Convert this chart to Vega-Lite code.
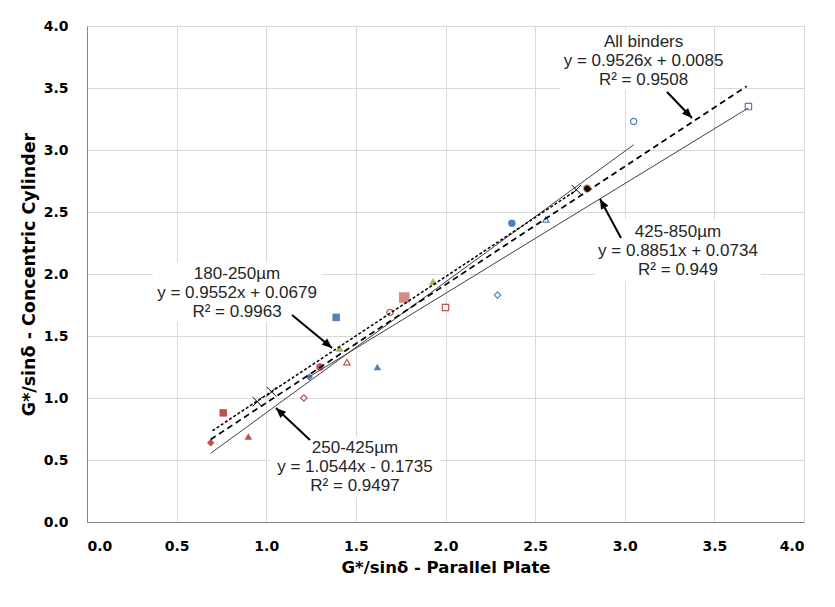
{
  "$schema": "https://vega.github.io/schema/vega-lite/v6.json",
  "width": 717,
  "height": 496,
  "autosize": {"type": "none"},
  "padding": {"left": 87, "top": 26, "right": 31, "bottom": 85},
  "background": "white",
  "config": {
    "view": {"stroke": "#bfbfbf", "strokeWidth": 1},
    "axis": {
      "labelFont": "DejaVu Sans",
      "labelFontWeight": "bold",
      "labelFontSize": 14,
      "labelColor": "#000000",
      "titleFont": "DejaVu Sans",
      "titleFontWeight": "bold",
      "titleFontSize": 16.5,
      "titleColor": "#000000",
      "gridColor": "#d9d9d9",
      "gridWidth": 1,
      "domainColor": "#868686",
      "domainWidth": 1,
      "ticks": false,
      "tickSize": 0
    },
    "axisX": {"labelPadding": 17, "titlePadding": 6},
    "axisY": {"labelPadding": 19, "titlePadding": 5, "titleFontSize": 17.5}
  },
  "datasets": {
    "points": [
      {"grade": "250-425µm", "binder": "B1", "pp": 0.69, "cc": 0.64},
      {"grade": "250-425µm", "binder": "B2", "pp": 0.76, "cc": 0.88},
      {"grade": "250-425µm", "binder": "B3", "pp": 0.90, "cc": 0.69},
      {"grade": "250-425µm", "binder": "B4", "pp": 1.21, "cc": 1.00},
      {"grade": "250-425µm", "binder": "B5", "pp": 1.30, "cc": 1.25},
      {"grade": "250-425µm", "binder": "B6", "pp": 1.45, "cc": 1.29},
      {"grade": "250-425µm", "binder": "B7", "pp": 1.69, "cc": 1.69},
      {"grade": "250-425µm", "binder": "B8", "pp": 2.00, "cc": 1.73},
      {"grade": "425-850µm", "binder": "B1", "pp": 1.24, "cc": 1.17},
      {"grade": "425-850µm", "binder": "B2", "pp": 1.39, "cc": 1.65},
      {"grade": "425-850µm", "binder": "B3", "pp": 1.62, "cc": 1.25},
      {"grade": "425-850µm", "binder": "B4", "pp": 2.29, "cc": 1.83},
      {"grade": "425-850µm", "binder": "B5", "pp": 2.37, "cc": 2.41},
      {"grade": "425-850µm", "binder": "B6", "pp": 2.56, "cc": 2.44},
      {"grade": "425-850µm", "binder": "B7", "pp": 3.05, "cc": 3.23},
      {"grade": "425-850µm", "binder": "B8", "pp": 3.69, "cc": 3.35},
      {"grade": "180-250µm", "binder": "B1", "pp": 0.95, "cc": 0.97},
      {"grade": "180-250µm", "binder": "B2", "pp": 1.03, "cc": 1.05},
      {"grade": "180-250µm", "binder": "B3", "pp": 1.41, "cc": 1.40},
      {"grade": "180-250µm", "binder": "B4", "pp": 1.77, "cc": 1.81},
      {"grade": "180-250µm", "binder": "B5", "pp": 1.93, "cc": 1.94},
      {"grade": "180-250µm", "binder": "B6", "pp": 2.73, "cc": 2.68},
      {"grade": "180-250µm", "binder": "B7", "pp": 2.79, "cc": 2.69}
    ],
    "fits": [
      {"fit": "All binders", "pp": 0.69, "cc": 0.6658},
      {"fit": "All binders", "pp": 3.68, "cc": 3.5141},
      {"fit": "250-425µm", "pp": 0.69, "cc": 0.5540},
      {"fit": "250-425µm", "pp": 3.05, "cc": 3.0424},
      {"fit": "425-850µm", "pp": 1.24, "cc": 1.1709},
      {"fit": "425-850µm", "pp": 3.69, "cc": 3.3394},
      {"fit": "180-250µm", "pp": 0.70, "cc": 0.7365},
      {"fit": "180-250µm", "pp": 2.73, "cc": 2.6757}
    ],
    "boxes": [
      {"note": "All binders", "pp": 2.639, "pp2": 3.492, "cc": 3.968, "cc2": 3.484},
      {"note": "180-250µm", "pp": 0.368, "pp2": 1.311, "cc": 2.097, "cc2": 1.613},
      {"note": "250-425µm", "pp": 1.021, "pp2": 1.969, "cc": 0.685, "cc2": 0.202},
      {"note": "425-850µm", "pp": 2.834, "pp2": 3.760, "cc": 2.444, "cc2": 1.944}
    ],
    "labels": [
      {"note": "All binders", "pp": 3.105, "cc": 3.871, "text": "All binders"},
      {"note": "All binders", "pp": 3.105, "cc": 3.718, "text": "y = 0.9526x + 0.0085"},
      {"note": "All binders", "pp": 3.105, "cc": 3.565, "text": "R² = 0.9508"},
      {"note": "180-250µm", "pp": 0.837, "cc": 2.000, "text": "180-250µm"},
      {"note": "180-250µm", "pp": 0.837, "cc": 1.847, "text": "y = 0.9552x + 0.0679"},
      {"note": "180-250µm", "pp": 0.837, "cc": 1.694, "text": "R² = 0.9963"},
      {"note": "250-425µm", "pp": 1.495, "cc": 0.597, "text": "250-425µm"},
      {"note": "250-425µm", "pp": 1.495, "cc": 0.444, "text": "y = 1.0544x - 0.1735"},
      {"note": "250-425µm", "pp": 1.495, "cc": 0.290, "text": "R² = 0.9497"},
      {"note": "425-850µm", "pp": 3.297, "cc": 2.339, "text": "425-850µm"},
      {"note": "425-850µm", "pp": 3.297, "cc": 2.185, "text": "y = 0.8851x + 0.0734"},
      {"note": "425-850µm", "pp": 3.297, "cc": 2.032, "text": "R² = 0.949"}
    ],
    "arrows": [
      {"note": "All binders", "pp": 3.236, "cc": 3.468, "pp2": 3.375, "cc2": 3.258},
      {"note": "180-250µm", "pp": 1.144, "cc": 1.669, "pp2": 1.367, "cc2": 1.403},
      {"note": "250-425µm", "pp": 1.244, "cc": 0.661, "pp2": 1.054, "cc2": 0.919},
      {"note": "425-850µm", "pp": 2.979, "cc": 2.290, "pp2": 2.862, "cc2": 2.605}
    ]
  },
  "encoding": {
    "x": {
      "field": "pp",
      "type": "quantitative",
      "title": "G*/sinδ - Parallel Plate",
      "scale": {"domain": [0, 4], "nice": false, "zero": false},
      "axis": {"values": [0, 0.5, 1, 1.5, 2, 2.5, 3, 3.5, 4], "format": ".1f"}
    },
    "y": {
      "field": "cc",
      "type": "quantitative",
      "title": "G*/sinδ - Concentric Cylinder",
      "scale": {"domain": [0, 4], "nice": false, "zero": false},
      "axis": {"values": [0, 0.5, 1, 1.5, 2, 2.5, 3, 3.5, 4], "format": ".1f"}
    }
  },
  "layer": [
    {
      "data": {"name": "boxes"},
      "mark": {"type": "rect", "fill": "white", "stroke": null},
      "encoding": {"x2": {"field": "pp2"}, "y2": {"field": "cc2"}}
    },
    {
      "data": {"name": "points"},
      "transform": [
        {"filter": {"field": "grade", "oneOf": ["250-425µm", "425-850µm"]}},
        {"filter": {"field": "binder", "oneOf": ["B1", "B2", "B3", "B5"]}}
      ],
      "mark": {"type": "point", "filled": true, "opacity": 1, "size": 56, "strokeWidth": 0},
      "encoding": {
        "shape": {
          "field": "binder", "type": "nominal", "legend": null,
          "scale": {"domain": ["B1", "B2", "B3", "B4", "B5", "B6", "B7", "B8"],
                    "range": ["diamond", "square", "triangle-up", "diamond", "circle", "triangle-up", "circle", "square"]}
        },
        "fill": {
          "field": "grade", "type": "nominal", "legend": null,
          "scale": {"domain": ["250-425µm", "425-850µm"], "range": ["#C0504D", "#4F81BD"]}
        }
      }
    },
    {
      "data": {"name": "points"},
      "transform": [
        {"filter": {"field": "grade", "oneOf": ["250-425µm", "425-850µm"]}},
        {"filter": {"field": "binder", "oneOf": ["B4", "B6", "B7", "B8"]}}
      ],
      "mark": {"type": "point", "filled": false, "fill": "white", "opacity": 1, "size": 40, "strokeWidth": 1.2},
      "encoding": {
        "shape": {"field": "binder", "type": "nominal", "legend": null},
        "stroke": {
          "field": "grade", "type": "nominal", "legend": null,
          "scale": {"domain": ["250-425µm", "425-850µm"], "range": ["#C0504D", "#4F81BD"]}
        }
      }
    },
    {
      "data": {"name": "points"},
      "transform": [
        {"filter": {"field": "grade", "equal": "180-250µm"}},
        {"filter": {"field": "binder", "oneOf": ["B3", "B5"]}}
      ],
      "mark": {"type": "point", "shape": "triangle-up", "filled": true, "opacity": 1, "size": 64, "color": "#9BBB59"}
    },
    {
      "data": {"name": "points"},
      "transform": [
        {"filter": {"field": "grade", "equal": "180-250µm"}},
        {"filter": {"field": "binder", "equal": "B4"}}
      ],
      "mark": {"type": "point", "shape": "square", "filled": true, "opacity": 1, "size": 110, "color": "#D48A87"}
    },
    {
      "data": {"name": "points"},
      "transform": [
        {"filter": {"field": "grade", "equal": "180-250µm"}},
        {"filter": {"field": "binder", "equal": "B7"}}
      ],
      "mark": {"type": "point", "shape": "circle", "filled": true, "opacity": 1, "size": 50, "fill": "#000000", "stroke": "#F79646", "strokeWidth": 1.2}
    },
    {
      "data": {"name": "fits"},
      "transform": [{"filter": {"field": "fit", "oneOf": ["250-425µm", "425-850µm"]}}],
      "mark": {"type": "line", "color": "#404040", "strokeWidth": 1},
      "encoding": {"detail": {"field": "fit"}}
    },
    {
      "data": {"name": "fits"},
      "transform": [{"filter": {"field": "fit", "equal": "180-250µm"}}],
      "mark": {"type": "line", "color": "#000000", "strokeWidth": 1.5, "strokeDash": [3, 2]},
      "encoding": {}
    },
    {
      "data": {"name": "fits"},
      "transform": [{"filter": {"field": "fit", "equal": "All binders"}}],
      "mark": {"type": "line", "color": "#000000", "strokeWidth": 1.75, "strokeDash": [6, 4]},
      "encoding": {}
    },
    {
      "data": {"name": "points"},
      "transform": [
        {"filter": {"field": "grade", "equal": "180-250µm"}},
        {"filter": {"field": "binder", "oneOf": ["B1", "B2", "B6"]}}
      ],
      "mark": {"type": "point", "shape": "M-1,-1L1,1M-1,1L1,-1", "filled": false, "opacity": 1, "size": 90, "stroke": "#000000", "strokeWidth": 1}
    },
    {
      "data": {"name": "labels"},
      "mark": {"type": "text", "font": "Liberation Sans", "fontSize": 17, "color": "#262626", "align": "center", "baseline": "middle"},
      "encoding": {"text": {"field": "text"}}
    },
    {
      "data": {"name": "arrows"},
      "mark": {"type": "rule", "color": "#000000", "strokeWidth": 2},
      "encoding": {"x2": {"field": "pp2"}, "y2": {"field": "cc2"}}
    },
    {
      "data": {"name": "arrows"},
      "transform": [{"filter": {"field": "note", "equal": "All binders"}}],
      "mark": {"type": "point", "shape": "M0,0L-0.42,1L0.42,1Z", "filled": true, "opacity": 1, "size": 400, "color": "#000000", "angle": 136},
      "encoding": {"x": {"field": "pp2", "type": "quantitative"}, "y": {"field": "cc2", "type": "quantitative"}}
    },
    {
      "data": {"name": "arrows"},
      "transform": [{"filter": {"field": "note", "equal": "180-250µm"}}],
      "mark": {"type": "point", "shape": "M0,0L-0.42,1L0.42,1Z", "filled": true, "opacity": 1, "size": 400, "color": "#000000", "angle": 130},
      "encoding": {"x": {"field": "pp2", "type": "quantitative"}, "y": {"field": "cc2", "type": "quantitative"}}
    },
    {
      "data": {"name": "arrows"},
      "transform": [{"filter": {"field": "note", "equal": "250-425µm"}}],
      "mark": {"type": "point", "shape": "M0,0L-0.42,1L0.42,1Z", "filled": true, "opacity": 1, "size": 400, "color": "#000000", "angle": 313},
      "encoding": {"x": {"field": "pp2", "type": "quantitative"}, "y": {"field": "cc2", "type": "quantitative"}}
    },
    {
      "data": {"name": "arrows"},
      "transform": [{"filter": {"field": "note", "equal": "425-850µm"}}],
      "mark": {"type": "point", "shape": "M0,0L-0.42,1L0.42,1Z", "filled": true, "opacity": 1, "size": 400, "color": "#000000", "angle": 332},
      "encoding": {"x": {"field": "pp2", "type": "quantitative"}, "y": {"field": "cc2", "type": "quantitative"}}
    }
  ]
}
